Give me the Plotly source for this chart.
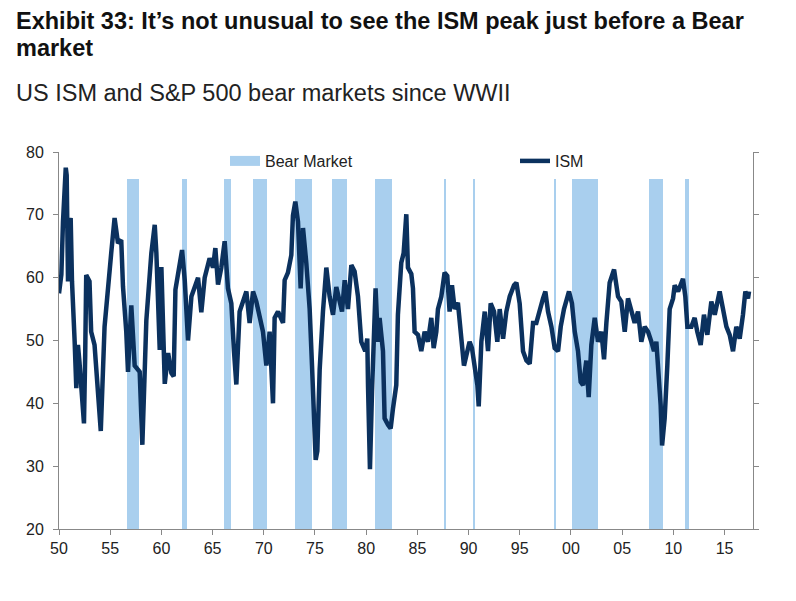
import pandas as pd
import plotly.graph_objects as go

# ---------------- data ----------------
title_line1 = "Exhibit 33: It\u2019s not unusual to see the ISM peak just before a Bear"
title_line2 = "market"
subtitle = "US ISM and S&P 500 bear markets since WWII"

x_tick_years = [1950, 1955, 1960, 1965, 1970, 1975, 1980, 1985, 1990, 1995, 2000, 2005, 2010, 2015]
y_ticks = [20, 30, 40, 50, 60, 70, 80]

bear_start = ["1956-08-20", "1961-12-25", "1966-02-01", "1968-12-10", "1973-01-08",
              "1976-08-28", "1980-10-30", "1987-08-25", "1990-06-20", "1998-06-10",
              "2000-02-06", "2007-08-15", "2011-02-18"]
bear_end = ["1957-11-05", "1962-07-15", "1966-10-10", "1970-04-20", "1974-09-15",
            "1978-03-01", "1982-07-22", "1987-10-19", "1990-08-15", "1998-07-28",
            "2002-08-08", "2009-01-12", "2011-07-08"]

ism_time = [
    1950.0, 1950.23, 1950.39, 1950.55, 1950.66, 1950.75, 1950.81, 1950.88, 1951.0, 1951.14,
    1951.27, 1951.36, 1951.53, 1951.69, 1951.85, 1952.0, 1952.17, 1952.44, 1952.56, 1952.66,
    1952.98, 1953.14, 1953.47, 1953.8, 1954.08, 1954.45, 1954.77, 1955.1, 1955.43, 1955.76,
    1956.08, 1956.25, 1956.57, 1956.74, 1957.06, 1957.39, 1957.88, 1958.14, 1958.53, 1959.02,
    1959.35, 1959.51, 1959.84,
    1960.0, 1960.33, 1960.66, 1960.98, 1961.2, 1961.37, 1961.79, 1962.02, 1962.28, 1962.6,
    1962.93, 1963.42, 1963.58, 1963.9, 1964.23, 1964.71, 1965.04, 1965.27, 1965.53, 1965.85,
    1966.18, 1966.5, 1966.83, 1967.09, 1967.32, 1967.64, 1967.97, 1968.3, 1968.62, 1968.95,
    1969.27, 1969.6, 1969.92,
    1970.25, 1970.57, 1970.9, 1971.06, 1971.39, 1971.88, 1972.04, 1972.36, 1972.69, 1972.85,
    1973.08, 1973.34, 1973.6, 1973.83, 1974.15, 1974.48, 1974.71, 1974.9, 1975.07, 1975.23,
    1975.46, 1975.78, 1976.11, 1976.43, 1976.76, 1977.08, 1977.41, 1977.64, 1977.9, 1978.22,
    1978.55, 1978.87, 1979.2, 1979.52, 1979.91,
    1980.11, 1980.18, 1980.37, 1980.57, 1980.76, 1980.92, 1981.15, 1981.31, 1981.64, 1981.8,
    1982.13, 1982.39, 1982.62, 1982.94, 1983.1, 1983.43, 1983.66, 1983.92, 1984.08, 1984.41,
    1984.57, 1984.73, 1985.06, 1985.38, 1985.71, 1986.03, 1986.36, 1986.59, 1986.85, 1987.01,
    1987.34, 1987.66, 1987.92, 1988.15, 1988.38, 1988.64, 1988.96, 1989.22, 1989.55, 1989.78,
    1990.1, 1990.33, 1990.59, 1990.86, 1990.99, 1991.25, 1991.58, 1991.9, 1992.16, 1992.49,
    1992.81, 1993.04, 1993.37, 1993.69, 1994.02, 1994.44, 1994.67, 1994.99, 1995.32, 1995.65,
    1995.97, 1996.3, 1996.62, 1996.95, 1997.27, 1997.5, 1997.76, 1998.09, 1998.41, 1998.74,
    1999.0, 1999.32, 1999.81,
    2000.1, 2000.37, 2000.69, 2000.95, 2001.18, 2001.5, 2001.73, 2001.99, 2002.32, 2002.64,
    2002.97, 2003.23, 2003.46, 2003.78, 2004.21, 2004.6, 2004.92, 2005.25, 2005.57, 2005.9,
    2006.22, 2006.55, 2006.87, 2007.2, 2007.53, 2007.85, 2008.11, 2008.34, 2008.57, 2008.76,
    2008.9, 2009.15, 2009.41, 2009.64, 2009.97,
    2010.13, 2010.46, 2010.72, 2010.94, 2011.17, 2011.37, 2011.76, 2012.08, 2012.34, 2012.67,
    2012.99, 2013.32, 2013.71, 2014.04, 2014.52, 2014.85, 2015.18, 2015.5, 2015.83, 2016.15,
    2016.48, 2016.8, 2017.03, 2017.29, 2017.39,
]
ism_value = [
    57.5, 60.5, 68.9, 76.3, 77.5, 76.3, 68.9, 59.4, 68.4, 69.5,
    59.4, 54.1, 49.8, 42.4, 49.3, 46.6, 43.4, 36.8, 47.7, 60.4,
    59.4, 51.4, 49.3, 41.8, 35.6, 52.2, 58.6, 63.9, 69.5, 65.5,
    66.0, 58.6, 51.4, 45.0, 55.6, 46.0, 45.0, 33.4, 53.2, 63.9,
    68.4, 63.9, 48.5,
    61.7, 43.1, 48.0, 44.8, 44.3, 58.1, 62.8, 64.4, 59.6, 50.0,
    57.0, 59.6, 60.0, 54.5, 60.0, 63.1, 61.6, 64.7, 58.9, 61.6,
    65.8, 58.3, 55.9, 48.3, 43.0, 54.6, 56.2, 57.8, 52.8, 57.8,
    56.2, 54.1, 51.4,
    46.0, 51.4, 40.0, 53.6, 54.6, 52.8, 59.6, 60.8, 63.6, 69.9,
    72.1, 68.9, 58.3, 67.9, 62.4, 55.0, 46.0, 37.6, 31.0, 32.4,
    45.4, 54.6, 61.6, 57.0, 54.1, 58.5, 56.2, 54.6, 59.6, 55.0,
    62.0, 61.0, 57.0, 49.8, 48.3,
    50.3, 42.9, 29.5, 41.8, 54.1, 58.3, 49.8, 53.6, 48.3, 37.6,
    36.6, 36.0, 39.2, 42.9, 54.1, 62.4, 63.9, 70.1, 61.6, 60.6,
    58.3, 51.4, 50.9, 48.3, 51.4, 49.8, 53.6, 48.8, 51.4, 55.0,
    57.0, 60.8, 60.3, 54.6, 58.8, 55.0, 56.0, 52.2, 46.0, 47.6,
    49.8, 48.8, 45.4, 42.9, 39.5, 49.8, 54.6, 48.3, 55.9, 54.6,
    49.8, 55.0, 50.3, 54.6, 57.0, 58.8, 59.2, 55.9, 48.3, 46.8,
    46.3, 52.8, 52.8, 55.0, 56.7, 57.8, 54.6, 52.2, 48.8, 48.3,
    52.2, 55.0, 57.8,
    55.9, 51.4, 48.3, 43.4, 42.9, 46.8, 41.0, 49.3, 53.6, 49.8,
    51.4, 47.0, 52.8, 59.2, 61.3, 57.0, 56.2, 51.4, 56.7, 55.0,
    52.8, 54.6, 49.8, 52.2, 51.4, 49.8, 48.3, 49.8, 45.4, 39.7,
    33.3, 37.6, 46.0, 55.0, 56.7,
    58.8, 57.8, 58.8, 59.8, 57.0, 52.2, 52.2, 53.6, 51.4, 49.3,
    54.1, 50.9, 56.2, 54.1, 57.8, 54.6, 52.2, 50.9, 48.3, 52.2,
    50.3, 54.1, 57.8, 56.7, 57.8,
]
assert len(ism_time) == len(ism_value)

# ---------------- styling constants ----------------
BAND_BASE = 20
BAND_TOP = 75.7
BAND_COLOR = "#A9CFEE"
LINE_COLOR = "#0B315E"
AXIS_COLOR = "#888888"
TEXT_COLOR = "#222222"
FONT = "Liberation Sans, Arial, sans-serif"

# page body has an 8px margin: the figure is laid out in its own pixel frame
W, H = 788, 593
PLOT_L, PLOT_R, PLOT_T, PLOT_B = 51, 745, 144, 521


def py(px):
    return (PLOT_B - px) / (PLOT_B - PLOT_T)


def pxx(px):
    return (px - PLOT_L) / (PLOT_R - PLOT_L)


def year_to_date(t):
    y = int(t)
    start = pd.Timestamp(year=y, month=1, day=1)
    return start + pd.Timedelta(days=(t - y) * 365.25)


ism_dates = [year_to_date(t) for t in ism_time]

bs = pd.to_datetime(bear_start)
be = pd.to_datetime(bear_end)
bear_mid = bs + (be - bs) / 2
bear_width = [(e - s).total_seconds() * 1000 for s, e in zip(bs, be)]

fig = go.Figure()
fig.add_trace(go.Bar(
    x=bear_mid, y=[BAND_TOP - BAND_BASE] * len(bs), base=BAND_BASE,
    width=bear_width, marker=dict(color=BAND_COLOR, line=dict(width=0)),
    name="Bear Market", hoverinfo="skip", showlegend=False,
))
# legend-only entry drawn as a wide swatch, like the reference key
fig.add_trace(go.Scatter(
    x=[None], y=[None], mode="lines", name="Bear Market",
    line=dict(color=BAND_COLOR, width=10), legend="legend",
))
fig.add_trace(go.Scatter(
    x=ism_dates, y=ism_value, mode="lines", name="ISM",
    line=dict(color=LINE_COLOR, width=4.5), legend="legend2",
))

annotations = [
    dict(text="<b>" + title_line1 + "</b>", x=pxx(6), y=py(13), xanchor="left", yanchor="middle",
         font=dict(family=FONT, size=23.5, color="#111111")),
    dict(text="<b>" + title_line2 + "</b>", x=pxx(6), y=py(39.5), xanchor="left", yanchor="middle",
         font=dict(family=FONT, size=23.5, color="#111111")),
    dict(text=subtitle, x=pxx(6), y=py(84.5), xanchor="left", yanchor="middle",
         font=dict(family=FONT, size=23.5, color=TEXT_COLOR)),
]
for a in annotations:
    a.update(xref="paper", yref="paper", showarrow=False)

legend_common = dict(orientation="h", yanchor="middle", xanchor="left",
                     bgcolor="rgba(0,0,0,0)", borderwidth=0,
                     font=dict(family=FONT, size=16, color=TEXT_COLOR))

fig.update_layout(
    width=W, height=H, autosize=False,
    margin=dict(l=PLOT_L, r=W - PLOT_R, t=PLOT_T, b=H - PLOT_B, pad=0),
    paper_bgcolor="white", plot_bgcolor="white",
    bargap=0,
    showlegend=True,
    legend=dict(x=pxx(217), y=py(153), **legend_common),
    legend2=dict(x=pxx(507), y=py(153), **legend_common),
    annotations=annotations,
    xaxis=dict(
        type="date", range=["1950-01-01", "2017-10-12"],
        tickvals=[pd.Timestamp(year=y, month=1, day=1) for y in x_tick_years],
        ticktext=[str(y)[-2:] for y in x_tick_years],
        ticks="outside", ticklen=5, tickcolor=AXIS_COLOR,
        showline=True, linecolor=AXIS_COLOR, linewidth=1,
        showgrid=False, zeroline=False,
        tickfont=dict(family=FONT, size=16, color=TEXT_COLOR),
    ),
    yaxis=dict(
        range=[20, 80], tickvals=y_ticks,
        ticks="outside", ticklen=5, tickcolor=AXIS_COLOR,
        showline=True, linecolor=AXIS_COLOR, linewidth=1, mirror="ticks",
        showgrid=False, zeroline=False,
        tickfont=dict(family=FONT, size=16, color=TEXT_COLOR),
        ticklabelstandoff=6,
    ),
)

fig.write_html("out.html")
